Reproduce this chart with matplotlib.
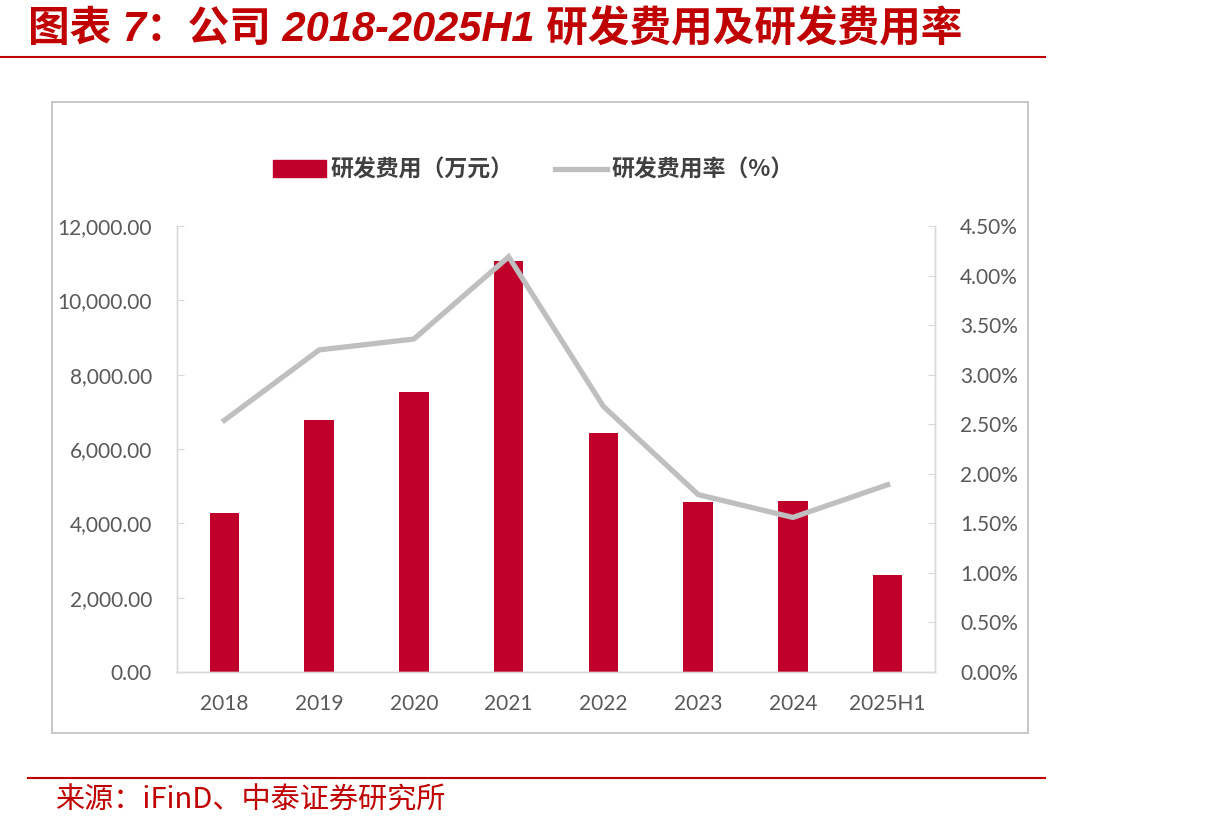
import matplotlib
matplotlib.use('Agg')
import matplotlib.pyplot as plt
from matplotlib.lines import Line2D
from matplotlib.patches import Rectangle, Patch
from matplotlib.ticker import FuncFormatter, MultipleLocator

plt.rcParams['font.family'] = ['Lato', 'Noto Sans CJK SC', 'DejaVu Sans']

# data
years = ['2018', '2019', '2020', '2021', '2022', '2023', '2024', '2025H1']
rd_expense = [4270, 6780, 7540, 11060, 6440, 4570, 4600, 2620]   # 万元
rd_ratio = [2.54, 3.25, 3.36, 4.19, 2.68, 1.79, 1.56, 1.89]      # %

title = '图表 7：公司 2018-2025H1 研发费用及研发费用率'
source = '来源：iFinD、中泰证券研究所'
bar_label = '研发费用（万元）'
line_label = '研发费用率（%）'

RED = '#C0002B'
GRAY_LINE = '#BFBFBF'
TICK_COLOR = '#595959'
DARK_RED = '#C00000'

fig = plt.figure(figsize=(12.21, 8.31), dpi=100)

# title + rules
fig.text(0.023, 0.964, title, color=DARK_RED, fontsize=30, fontweight='bold',
         fontstyle='italic', family=['Liberation Sans', 'Noto Sans CJK SC'],
         ha='left', va='center')
fig.add_artist(Line2D([0.0, 0.856], [0.9314, 0.9314], color=DARK_RED, lw=1.5,
                      transform=fig.transFigure))
fig.add_artist(Line2D([0.023, 0.856], [0.0638, 0.0638], color=DARK_RED, lw=1.5,
                      transform=fig.transFigure))
fig.text(0.045, 0.037, source, color=DARK_RED, fontsize=21,
         family=['Noto Sans CJK SC', 'DejaVu Sans'], ha='left', va='center')

# chart frame
fig.add_artist(Rectangle((52 / 1221, 1 - 733 / 831), (1028 - 52) / 1221, (733 - 102) / 831,
                         transform=fig.transFigure, fill=False, edgecolor='#BFBFBF', lw=1.2))

ax = fig.add_axes([0.145, 0.1913, 0.6208, 0.5367])
ax2 = ax.twinx()

x = list(range(len(years)))
ax.bar(x, rd_expense, width=0.31, color=RED, zorder=2)
ax2.plot(x, [r / 100 for r in rd_ratio], color=GRAY_LINE, lw=3.8, zorder=3,
         solid_joinstyle='miter')

ax.set_xlim(-0.5, len(years) - 0.5)
ax.set_ylim(0, 12000)
ax.yaxis.set_major_locator(MultipleLocator(2000))
ax.yaxis.set_major_formatter(FuncFormatter(lambda v, p: '{:,.2f}'.format(v)))
ax2.set_ylim(0, 0.045)
ax2.yaxis.set_major_locator(MultipleLocator(0.005))
ax2.yaxis.set_major_formatter(FuncFormatter(lambda v, p: '{:.2f}%'.format(v * 100)))

ax.set_xticks(x)
ax.set_xticklabels(years)

for a in (ax, ax2):
    for s in a.spines.values():
        s.set_color('#D9D9D9')
        s.set_linewidth(1.0)
    a.spines['top'].set_visible(False)
ax.tick_params(axis='y', direction='in', length=5, color='#D9D9D9', labelsize=15,
               labelcolor=TICK_COLOR, pad=18)
ax2.tick_params(axis='y', direction='in', length=5, color='#D9D9D9', labelsize=15,
                labelcolor=TICK_COLOR, pad=18)
ax.tick_params(axis='x', length=0, labelsize=15, labelcolor=TICK_COLOR, pad=16)
ax.set_zorder(ax2.get_zorder() - 1)
ax.patch.set_visible(True)
ax2.patch.set_visible(False)

handles = [Patch(facecolor=RED, edgecolor=RED),
           Line2D([0], [0], color=GRAY_LINE, lw=3.8)]
fig.legend(handles, [bar_label, line_label], loc='center', bbox_to_anchor=(0.437, 0.7954),
           ncol=2, frameon=False, handlelength=2.3, handleheight=0.7, handletextpad=0.2,
           columnspacing=1.8,
           prop={'family': ['Noto Sans CJK SC', 'DejaVu Sans'], 'size': 16.5, 'weight': 'bold'},
           labelcolor='#404040')

fig.savefig('out.png', dpi=100)
